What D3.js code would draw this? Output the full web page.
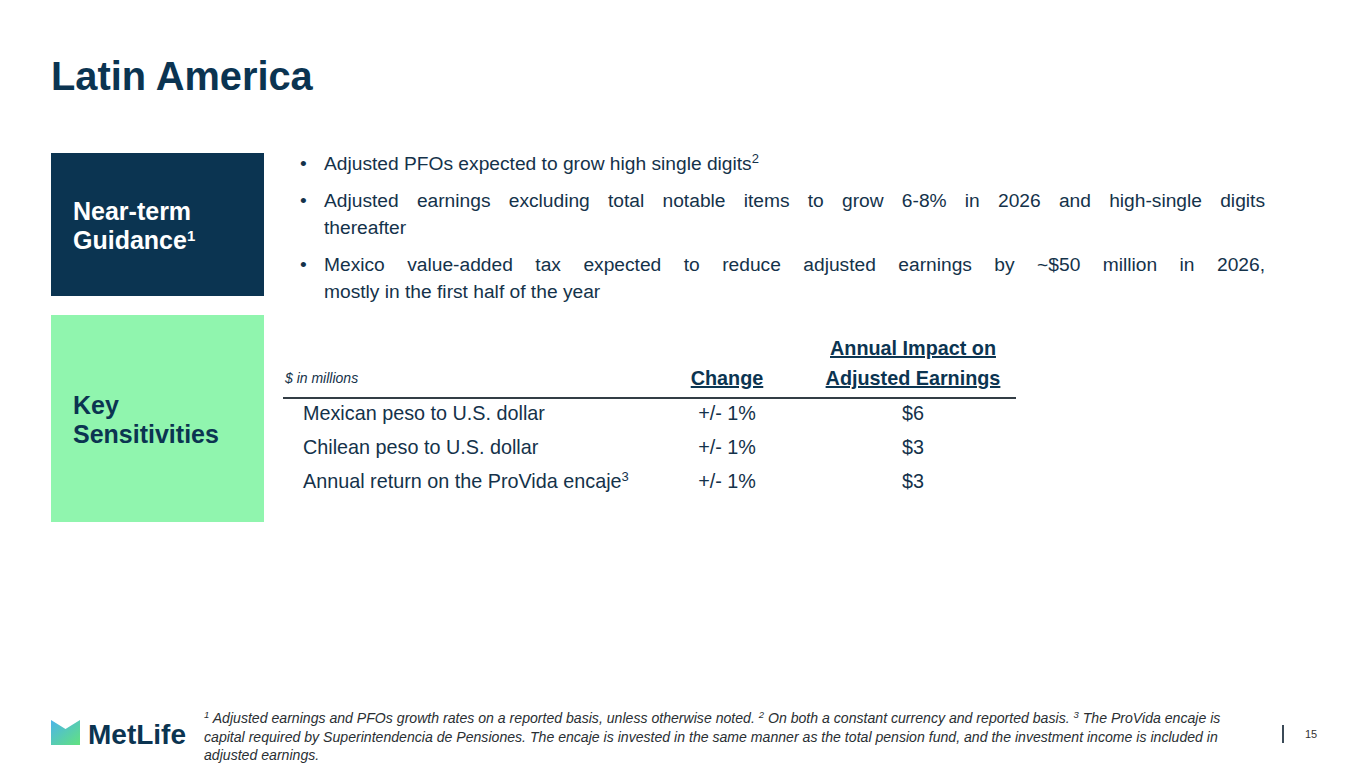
<!DOCTYPE html>
<html>
<head>
<meta charset="utf-8">
<script src="https://cdn.jsdelivr.net/npm/d3@7"></script>
<style>
  html, body { margin: 0; padding: 0; background: #fff; }
  svg { display: block; font-family: "Liberation Sans", Arial, sans-serif; }
</style>
</head>
<body>
<div class="slide"></div>
<script>
// slide text + table values
var title = "Latin America";
var sideLabels = [["Near-term", "Guidance"], ["Key", "Sensitivities"]];
var bullets = [
  {lines: ["Adjusted PFOs expected to grow high single digits"], sup: "2"},
  {lines: ["Adjusted earnings excluding total notable items to grow 6-8% in 2026 and high-single digits", "thereafter"], sup: null},
  {lines: ["Mexico value-added tax expected to reduce adjusted earnings by ~$50 million in 2026,", "mostly in the first half of the year"], sup: null}
];
var unitNote = "$ in millions";
var colHeaders = [["Change"], ["Annual Impact on", "Adjusted Earnings"]];
var rowLabels = ["Mexican peso to U.S. dollar", "Chilean peso to U.S. dollar", "Annual return on the ProVida encaje"];
var rowSups = ["", "", "3"];
var changes = ["+/- 1%", "+/- 1%", "+/- 1%"];
var impacts = [6, 3, 3];
var footnoteLines = [
  [["1", true], [" Adjusted earnings and PFOs growth rates on a reported basis, unless otherwise noted. ", false], ["2", true], [" On both a constant currency and reported basis. ", false], ["3", true], [" The ProVida encaje is", false]],
  [["capital required by Superintendencia de Pensiones. The encaje is invested in the same manner as the total pension fund, and the investment income is included in", false]],
  [["adjusted earnings.", false]]
];
var pageNumber = "15";

var W = 1365, H = 769;
var navy = "#0b3451";
var textCol = "#14324a";
var green = "#90f5ae";

var svg = d3.select("div.slide").append("svg")
    .attr("width", W).attr("height", H);

//gradient for logo
var grad = svg.append("defs").append("linearGradient")
    .attr("id", "logoGrad").attr("x1", "0").attr("x2", "1").attr("y1", "0").attr("y2", "1");
grad.append("stop").attr("offset", "0%").attr("stop-color", "#4bb4ea");
grad.append("stop").attr("offset", "100%").attr("stop-color", "#62e27f");

//title
svg.append("text")
    .attr("x", 51).attr("y", 90)
    .attr("font-size", 39.8).attr("font-weight", "bold")
    .attr("fill", navy)
    .text(title);

//side boxes
var boxes = [
  {y: 153, h: 143, fill: navy, color: "#fff", base: 220},
  {y: 315, h: 207, fill: green, color: navy, base: 414}
];
var boxG = svg.selectAll("g.box").data(boxes).join("g").attr("class", "box");
boxG.append("rect")
    .attr("x", 51).attr("width", 213)
    .attr("y", d => d.y).attr("height", d => d.h)
    .attr("fill", d => d.fill);
boxG.each(function(d, i){
  var t = d3.select(this).append("text")
      .attr("x", 73).attr("y", d.base)
      .attr("font-size", 25).attr("font-weight", "bold")
      .attr("fill", d.color);
  t.append("tspan").attr("x", 73).text(sideLabels[i][0]);
  t.append("tspan").attr("x", 73).attr("dy", 29).text(sideLabels[i][1]);
  if(i === 0){
    t.append("tspan").attr("dy", -8).attr("font-size", 15).text("1");
  }
});

//bullets
var bx = 324, bRight = 1265;
var bulletBase = [170, 207, 271];
var lineGap = 27;
var bulletFont = 19.2;

function justify(sel, str, x0, x1, y){
  var words = str.split(" ");
  var t = sel.append("text").attr("y", y).attr("font-size", bulletFont).attr("fill", textCol);
  var spans = words.map(w => t.append("tspan").text(w));
  var widths = spans.map(s => s.node().getComputedTextLength());
  var total = d3.sum(widths);
  var gap = (x1 - x0 - total) / (words.length - 1);
  var x = x0;
  spans.forEach(function(s, k){
    s.attr("x", x);
    x += widths[k] + gap;
  });
}

bullets.forEach(function(b, i){
  var y0 = bulletBase[i];
  svg.append("text")
      .attr("x", 300).attr("y", y0)
      .attr("font-size", bulletFont).attr("fill", textCol)
      .text("\u2022");
  b.lines.forEach(function(line, j){
    var y = y0 + j * lineGap;
    if(j < b.lines.length - 1){
      justify(svg, line, bx, bRight, y);
    } else {
      var t = svg.append("text").attr("x", bx).attr("y", y)
          .attr("font-size", bulletFont).attr("fill", textCol)
          .text(line);
      if(b.sup){
        t.append("tspan").attr("dy", -7).attr("font-size", 13).text(b.sup);
      }
    }
  });
});

//table
var colX = [727, 913];
var yRow = d3.scaleBand().domain(rowLabels).range([397, 499]);
var fmt = d => "$" + d3.format("d")(d);
var cellFont = 19.8;

svg.append("text")
    .attr("x", 285).attr("y", 383)
    .attr("font-size", 14).attr("font-style", "italic")
    .attr("fill", textCol)
    .text(unitNote);

colHeaders.forEach(function(hdr, c){
  hdr.forEach(function(line, k){
    var y = 385 - (hdr.length - 1 - k) * 30;
    svg.append("text")
        .attr("x", colX[c]).attr("y", y)
        .attr("text-anchor", "middle")
        .attr("font-size", cellFont).attr("font-weight", "bold")
        .attr("text-decoration", "underline")
        .attr("fill", navy)
        .text(line);
  });
});

svg.append("line")
    .attr("x1", 283).attr("x2", 1016)
    .attr("y1", 398).attr("y2", 398)
    .attr("stroke", "#333d45").attr("stroke-width", 2);

var rows = svg.selectAll("g.row").data(rowLabels).join("g")
    .attr("class", "row")
    .attr("transform", d => `translate(0,${yRow(d) + yRow.bandwidth() / 2 + 6})`);

var lab = rows.append("text")
    .attr("x", 303)
    .attr("font-size", cellFont).attr("fill", textCol)
    .text(d => d);
lab.filter((d, i) => rowSups[i]).append("tspan")
    .attr("dy", -7).attr("font-size", 13)
    .text(d => rowSups[rowLabels.indexOf(d)]);

rows.append("text")
    .attr("x", colX[0]).attr("text-anchor", "middle")
    .attr("font-size", cellFont).attr("fill", textCol)
    .text((d, i) => changes[i]);
rows.append("text")
    .attr("x", colX[1]).attr("text-anchor", "middle")
    .attr("font-size", cellFont).attr("fill", textCol)
    .text((d, i) => fmt(impacts[i]));

//footnotes
footnoteLines.forEach(function(parts, i){
  var t = svg.append("text")
      .attr("x", 204).attr("y", 723 + i * 18.5)
      .attr("font-size", 14.1).attr("font-style", "italic")
      .attr("fill", "#2a2f33");
  parts.forEach(function(p, k){
    var s = t.append("tspan").text(p[0]);
    if(p[1]){
      s.attr("dy", -5).attr("font-size", 9.5);
    } else if(k > 0){
      s.attr("dy", 5);
    }
  });
});

//page marker
svg.append("rect")
    .attr("x", 1282).attr("y", 725).attr("width", 2).attr("height", 18)
    .attr("fill", "#3b4a57");
svg.append("text")
    .attr("x", 1305).attr("y", 738)
    .attr("font-size", 11).attr("fill", "#333")
    .text(pageNumber);

//logo
svg.append("path")
    .attr("d", "M51,720 L65.5,729 L80,720 L80,745 L51,745 Z")
    .attr("fill", "url(#logoGrad)");
svg.append("text")
    .attr("x", 88).attr("y", 744)
    .attr("font-size", 28).attr("font-weight", "bold")
    .attr("fill", navy)
    .text("MetLife");
</script>
</body>
</html>
